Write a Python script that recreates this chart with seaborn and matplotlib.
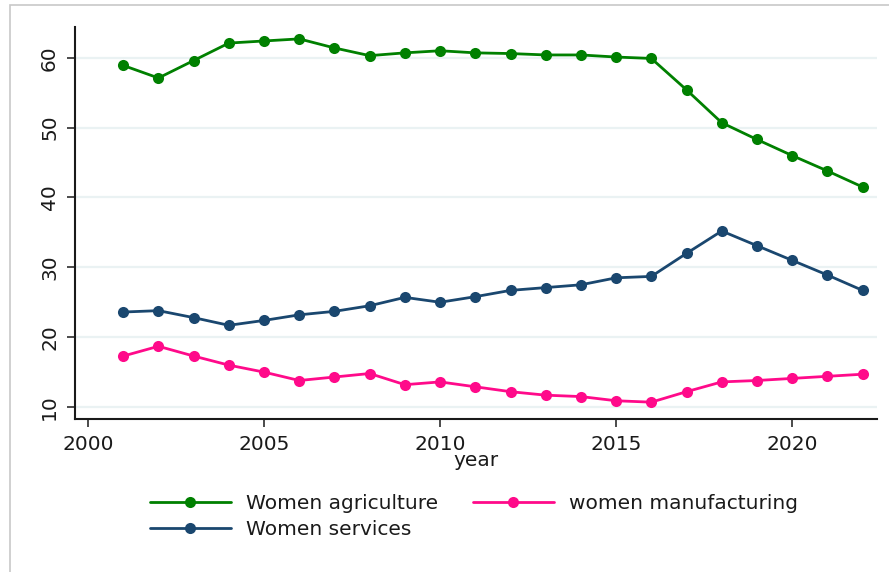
import matplotlib
matplotlib.use("Agg")
import matplotlib.pyplot as plt
import seaborn as sns
import pandas as pd
from matplotlib.patches import Rectangle
from matplotlib.lines import Line2D

years = list(range(2001, 2023))
women_agriculture = [58.9, 57.1, 59.6, 62.1, 62.4, 62.7, 61.4, 60.3, 60.7, 61.0, 60.7,
                     60.6, 60.4, 60.4, 60.1, 59.9, 55.4, 50.7, 48.3, 46.0, 43.8, 41.5]
women_manufacturing = [17.3, 18.7, 17.3, 16.0, 15.0, 13.8, 14.3, 14.8, 13.2, 13.6, 12.9,
                       12.2, 11.7, 11.5, 10.9, 10.7, 12.2, 13.6, 13.8, 14.1, 14.4, 14.7]
women_services = [23.6, 23.8, 22.8, 21.7, 22.4, 23.2, 23.7, 24.5, 25.7, 25.0, 25.8,
                   26.7, 27.1, 27.5, 28.5, 28.7, 32.0, 35.2, 33.1, 31.0, 28.9, 26.7]
series_names = ["Women agriculture", "women manufacturing", "Women services"]
series_colors = ["#008000", "#ff0a8a", "#1a476f"]
x_ticks = [2000, 2005, 2010, 2015, 2020]
y_ticks = [10, 20, 30, 40, 50, 60]

df = pd.DataFrame({
    "year": years * 3,
    "value": women_agriculture + women_manufacturing + women_services,
    "series": [series_names[0]] * len(years) + [series_names[1]] * len(years) + [series_names[2]] * len(years),
})

sns.set_style("white")
plt.rcParams["font.family"] = ["DejaVu Sans"]
text_color = "#1a1a1a"

fig = plt.figure(figsize=(8.89, 5.72), dpi=100)
ax = fig.add_axes([75 / 889, 1 - 419 / 572, (877 - 75) / 889, (419 - 27) / 572])

for yv in y_ticks:
    ax.axhline(yv, color="#eaf2f3", lw=1.6, zorder=0)

palette = dict(zip(series_names, series_colors))
sns.lineplot(data=df, x="year", y="value", hue="series", palette=palette,
             hue_order=series_names, marker="o", markersize=8, markeredgewidth=0,
             linewidth=2.0, legend=False, ax=ax, zorder=3)

ax.set_xlim(1999.63, 2022.41)
ax.set_ylim(8.29, 64.4)
ax.set_xticks(x_ticks)
ax.set_yticks(y_ticks)
ax.set_xticklabels([str(t) for t in x_ticks], fontsize=14.5, color=text_color)
ax.set_yticklabels([str(t) for t in y_ticks], fontsize=14.5, color=text_color,
                   rotation=90, va="center")
ax.tick_params(axis="both", which="major", direction="out", length=5.5, width=1.1,
               color="#1a1a1a", bottom=True, left=True)
ax.tick_params(axis="x", pad=6)
ax.tick_params(axis="y", pad=6)
ax.set_xlabel("year", fontsize=14.5, color=text_color, labelpad=-2)
ax.set_ylabel("")
for side in ["top", "right"]:
    ax.spines[side].set_visible(False)
for side in ["left", "bottom"]:
    ax.spines[side].set_color("#1a1a1a")
    ax.spines[side].set_linewidth(1.5)

handles = [Line2D([0], [0], color=c, lw=2.0, marker="o", markersize=8, markeredgewidth=0)
           for c in series_colors]
order = [0, 2, 1]
leg = fig.legend([handles[i] for i in order], [series_names[i] for i in order],
                 loc="upper left", bbox_to_anchor=(150 / 889, 1 - 494 / 572),
                 bbox_transform=fig.transFigure, ncol=2, frameon=False, fontsize=14.5,
                 handlelength=4.0, handletextpad=0.75, columnspacing=1.75,
                 labelspacing=0.35, borderpad=0, borderaxespad=0)
for t in leg.get_texts():
    t.set_color(text_color)

fig.patches.append(Rectangle((9.5 / 889, -0.05), 1.2, 1.05 - 5 / 572,
                             transform=fig.transFigure, fill=False,
                             edgecolor="#c8c8c8", lw=1.2, zorder=-1))

fig.savefig("out.png", dpi=100)
